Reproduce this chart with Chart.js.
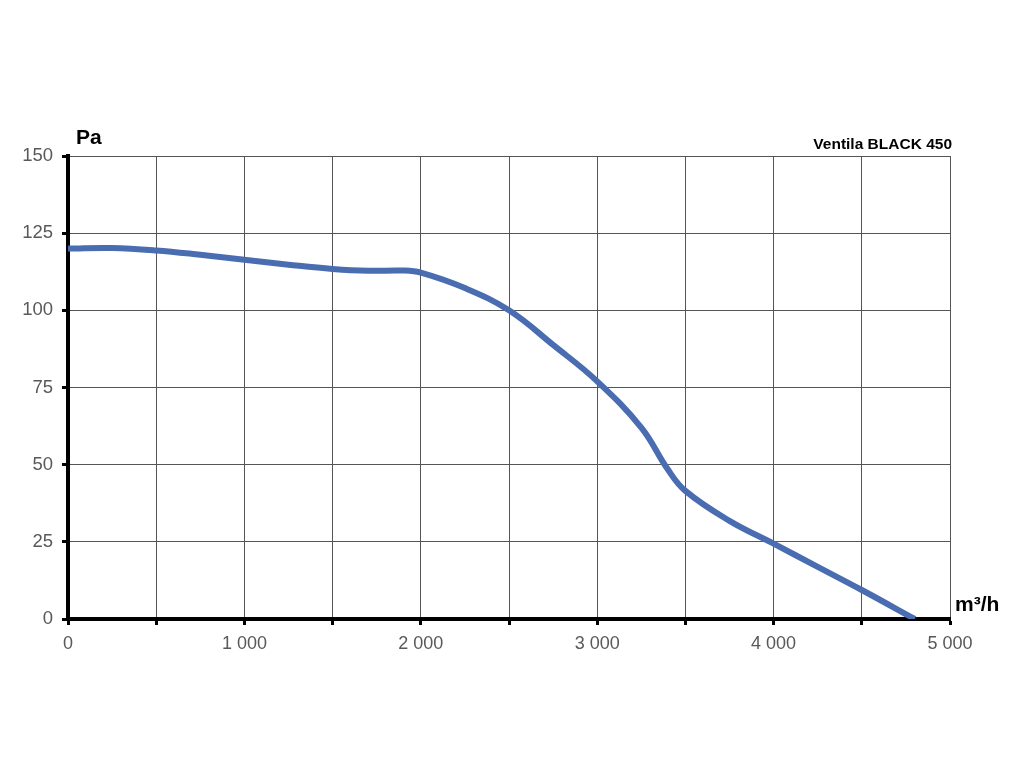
<!DOCTYPE html>
<html lang="en">
<head>
<meta charset="UTF-8">
<title>Ventila BLACK 450</title>
<script src="https://cdn.jsdelivr.net/npm/chart.js"></script>
<style>
    body { margin: 0; padding: 0; background: #fff; }
    #wrap { width: 1024px; height: 768px; position: relative; }
</style>
</head>
<body>
<div id="wrap"><canvas id="fanChart" width="1024" height="768"></canvas></div>
<script>
    // airflow m3/h and static pressure Pa
    var flow = [0, 250, 500, 750, 1000, 1250, 1500, 1700, 1900, 2000, 2250, 2500, 2750, 3000, 3250, 3400, 3500, 3750, 4000, 4250, 4500, 4800];
    var pressure = [120, 120.2, 119.4, 118, 116.4, 114.8, 113.4, 112.8, 112.9, 112.2, 107.2, 100, 88.8, 77, 62, 48.5, 41.5, 31.8, 24.4, 16.9, 9.4, 0];

    var xTitle = 'm³/h';
    var yTitle = 'Pa';
    var modelName = 'Ventila BLACK 450';

    var points = flow.map(function (f, i) { return { x: f, y: pressure[i] }; });

    function fmt(v) {
        return String(v).replace(/\B(?=(\d{3})+(?!\d))/g, ' ');
    }

    var labelPlugin = {
        id: 'labels',
        afterDraw: function (chart) {
            var ctx = chart.ctx;
            var area = chart.chartArea;
            ctx.save();
            ctx.fillStyle = '#000';
            ctx.font = 'bold 21px "Liberation Sans", Arial, sans-serif';
            ctx.textBaseline = 'alphabetic';
            ctx.textAlign = 'left';
            ctx.fillText(yTitle, area.left + 8, area.top - 12);
            ctx.fillText(xTitle, area.right + 5, area.bottom - 8);
            ctx.font = 'bold 15.5px "Liberation Sans", Arial, sans-serif';
            ctx.textAlign = 'right';
            ctx.fillText(modelName, area.right + 2, area.top - 7);
            ctx.restore();
        }
    };

    new Chart(document.getElementById('fanChart').getContext('2d'), {
        type: 'line',
        data: {
            datasets: [{
                data: points,
                borderColor: '#4a6db2',
                borderWidth: 6,
                pointRadius: 0,
                fill: false,
                tension: 0.4
            }]
        },
        options: {
            responsive: false,
            animation: false,
            layout: { padding: { top: 156, right: 74, bottom: 0, left: 0 } },
            plugins: { legend: { display: false }, tooltip: { enabled: false } },
            scales: {
                x: {
                    type: 'linear',
                    min: 0,
                    max: 5000,
                    afterFit: function (s) { s.height = 149; },
                    border: { color: '#000', width: 4 },
                    grid: { color: '#555', lineWidth: 1, tickColor: '#000', tickWidth: 3, tickLength: 6 },
                    ticks: {
                        stepSize: 500,
                        color: '#595959',
                        font: { family: '"Liberation Sans", Arial, sans-serif', size: 18 },
                        padding: 8,
                        maxRotation: 0,
                        autoSkip: false,
                        callback: function (v) { return v % 1000 === 0 ? fmt(v) : ''; }
                    }
                },
                y: {
                    min: 0,
                    max: 150,
                    afterFit: function (s) { s.width = 68; },
                    border: { color: '#000', width: 4 },
                    grid: { color: '#555', lineWidth: 1, tickColor: '#000', tickWidth: 3, tickLength: 6 },
                    ticks: {
                        stepSize: 25,
                        color: '#595959',
                        font: { family: '"Liberation Sans", Arial, sans-serif', size: 18.5 },
                        padding: 9
                    }
                }
            }
        },
        plugins: [labelPlugin]
    });
</script>
</body>
</html>
